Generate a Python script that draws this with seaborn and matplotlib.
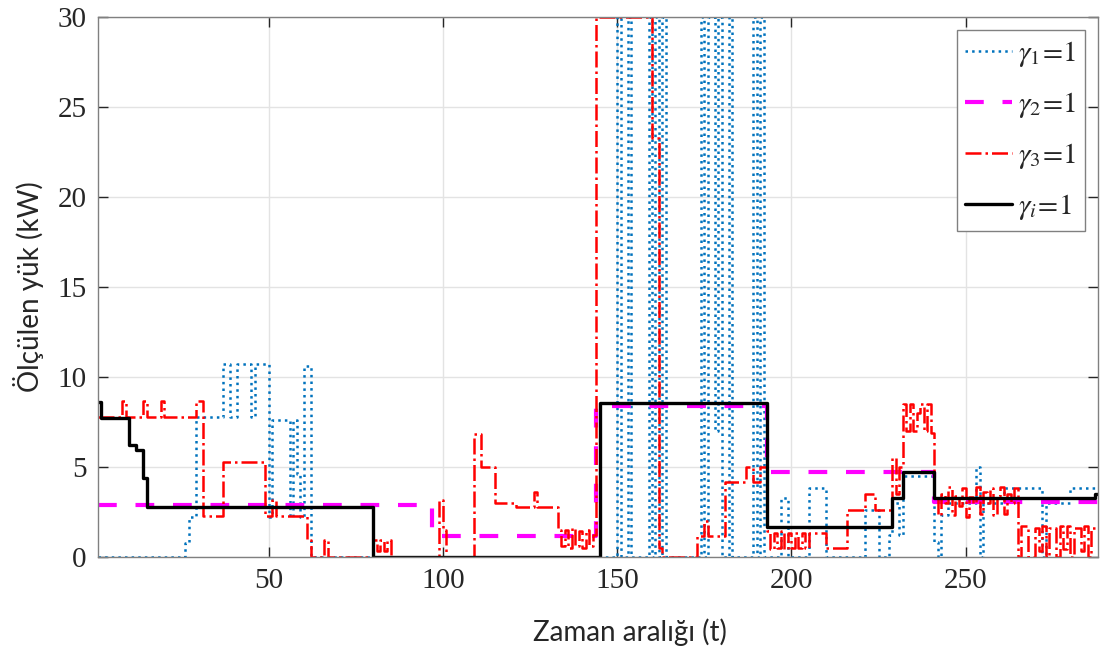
import numpy as np
import pandas as pd
import matplotlib
matplotlib.use("Agg")
import matplotlib.pyplot as plt
import seaborn as sns

# olculen yuk - adim (step) verileri, her x'ten bir sonrakine kadar gecerli deger
# gamma_1 = 1 (mavi, noktali)
g1_x = [1, 26, 27, 29, 37, 39, 41, 45, 46, 50, 51, 56, 57, 58, 59, 60, 62,
        150, 151, 153, 154, 159, 160, 161, 162, 163, 164, 174, 175, 176, 178, 179, 180,
        182, 183, 189, 190, 191, 192,
        197, 199, 205, 210, 221, 225, 228, 229, 231, 232, 241, 242, 243, 245,
        253, 254, 255, 261, 272, 273, 280, 288]
g1_y = [0, 0.75, 2.2, 7.75, 10.7, 7.75, 10.7, 7.75, 10.7, 2.2, 7.6, 2.2, 7.6, 4.6, 2.2, 10.6, 0,
        30, 0, 30, 0, 30, 0, 30, 0, 30, 0, 30, 0, 30, 7.0, 30, 0,
        30, 0, 30, 0, 30, 0,
        3.25, 0, 3.8, 0, 2.6, 0, 1.2, 3.0, 1.2, 4.5, 0.8, 0, 2.3, 3.0,
        5.0, 0, 3.0, 3.8, 0, 3.0, 3.8, 3.8]

# gamma_2 = 1 (magenta, kesikli)
g2_x = [1, 97, 144, 193, 241, 288]
g2_y = [2.9, 1.17, 8.4, 4.72, 3.03, 3.03]

# gamma_3 = 1 (kirmizi, kesik-noktali)
g3_x = [1, 8, 9, 14, 15, 19, 20, 29, 31, 37, 49, 51, 52, 61, 62, 66, 67,
        80, 81, 82, 83, 84, 85, 99, 100, 101, 109, 111, 115, 121, 126, 127,
        133, 134, 135, 136, 137, 138, 139, 140, 141, 142, 143, 144, 160, 162, 163,
        173, 175, 176, 181, 187, 189, 191,
        193, 194, 195, 196, 197, 198, 199, 200, 201, 202, 203, 204, 205, 210, 216, 221, 224,
        229, 230, 231, 232, 233, 234, 235, 236, 237, 238, 239, 240,
        241, 242, 243, 244, 245, 246, 247, 248, 249, 250, 251, 252, 253, 254, 255,
        256, 257, 258, 259, 260, 261, 262, 263, 264,
        265, 266, 268, 270, 271, 272, 273, 274, 276, 277, 278, 279, 280, 281, 283, 284, 285, 286, 288]
g3_y = [7.74, 8.67, 7.74, 8.67, 7.74, 8.67, 7.74, 8.67, 2.28, 5.24, 2.28, 3.15, 2.28, 0.93, 0, 0.93, 0,
        0.9, 0.3, 0.9, 0.3, 0.9, 0, 3.15, 1.5, 0, 6.8, 5.0, 3.0, 2.78, 3.6, 2.78,
        1.5, 0.6, 1.5, 0.5, 1.6, 0.6, 1.4, 0.5, 1.5, 0.6, 1.2, 30, 23.3, 0.47, 0,
        1.17, 2.0, 1.17, 4.13, 5.0, 4.13, 5.0,
        1.4, 0.4, 1.3, 0.5, 1.4, 0.4, 1.3, 0.5, 1.3, 0.5, 1.3, 0.5, 1.3, 0.47, 2.6, 3.5, 2.6,
        5.5, 3.5, 5.0, 8.5, 7.0, 8.5, 7.0, 8.0, 8.5, 7.0, 8.5, 6.9,
        3.3, 2.3, 3.5, 3.0, 3.9, 2.3, 3.4, 2.8, 3.8, 2.2, 3.3, 3.0, 3.9, 2.4, 3.6,
        3.0, 3.8, 2.3, 3.4, 3.9, 2.4, 3.5, 3.0, 3.8,
        0, 1.7, 0, 1.6, 0.3, 1.7, 0, 1.6, 0, 1.7, 0.4, 1.7, 0, 1.6, 0.3, 1.7, 0, 1.6, 1.6]

# gamma_i = 1 (siyah, duz)
gi_x = [1, 2, 10, 12, 14, 15, 80, 145, 193, 229, 232, 241, 287, 288]
gi_y = [8.6, 7.7, 6.2, 5.95, 4.4, 2.75, 0, 8.55, 1.65, 3.25, 4.7, 3.25, 3.5, 3.5]

sns.set_style("ticks")
plt.rcParams["font.family"] = ["Liberation Serif", "DejaVu Serif"]
plt.rcParams["mathtext.fontset"] = "stix"

fig = plt.figure(figsize=(11.02, 6.57), dpi=100)
ax = fig.add_axes([0.0889, 0.1527, 0.9075, 0.8213])

seriler = [
    (g1_x, g1_y, r"$\gamma_1\!=\!1$", "#0072BD", ":", 1.8),
    (g2_x, g2_y, r"$\gamma_2\!=\!1$", "#FF00FF", (0, (4.5, 4.5)), 3.0),
    (g3_x, g3_y, r"$\gamma_3\!=\!1$", "#FF0000", "-.", 1.8),
    (gi_x, gi_y, r"$\gamma_i\!=\!1$", "black", "-", 2.4),
]
for xs, ys, lab, col, ls, lw in seriler:
    sns.lineplot(x=xs, y=ys, ax=ax, drawstyle="steps-post", estimator=None, sort=False,
                 color=col, linestyle=ls, linewidth=lw, label=lab)

ax.set_xlim(1, 288)
ax.set_ylim(0, 30)
ax.set_xticks([50, 100, 150, 200, 250])
ax.set_yticks([0, 5, 10, 15, 20, 25, 30])
ax.grid(True, color="#e3e3e3", linewidth=1)
ax.tick_params(direction="in", length=7, width=1, labelsize=21, colors="#262626",
               top=True, right=True, pad=8)
for sp in ax.spines.values():
    sp.set_visible(True)
    sp.set_color("#808080")
    sp.set_linewidth(1)

ax.set_xlabel("Zaman aralığı (t)", family="Lato", fontsize=20)
ax.set_ylabel("Ölçülen yük (kW)", family="Lato", fontsize=20, labelpad=10)
ax.xaxis.set_label_coords(0.532, -0.115)

leg = ax.legend(loc="upper right", fontsize=21, frameon=True, fancybox=False,
                edgecolor="#808080", framealpha=1, handlelength=1.6, handletextpad=0.2,
                borderpad=0.3, labelspacing=0.72, borderaxespad=0.45)
leg.get_frame().set_linewidth(1)

fig.savefig("out.png", dpi=100)
